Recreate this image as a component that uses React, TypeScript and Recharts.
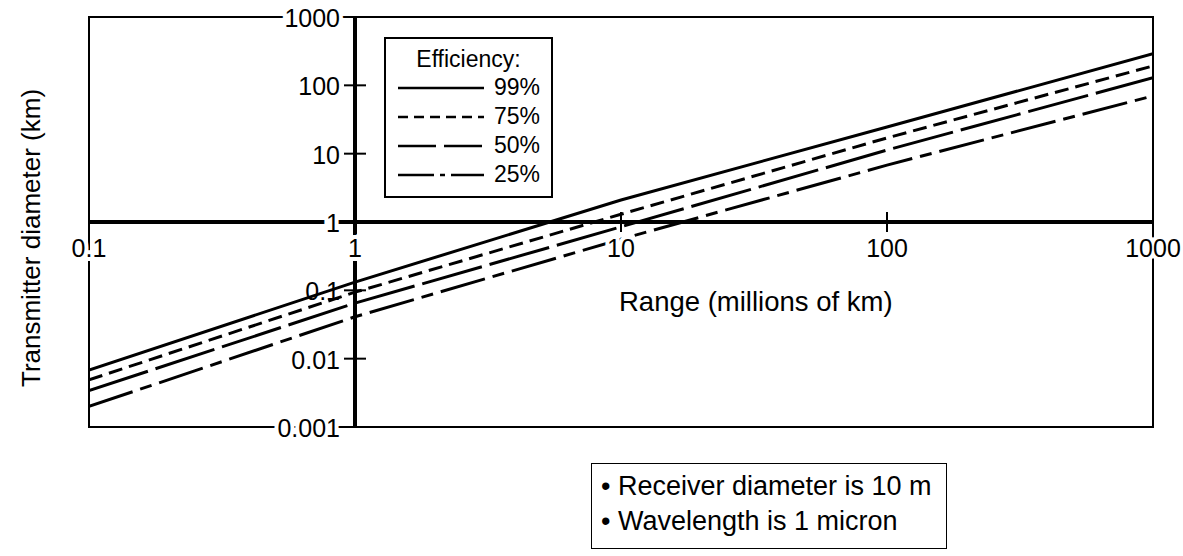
import React from 'react';
import { LineChart, Line, XAxis, YAxis, ReferenceLine, ReferenceArea, ReferenceDot, Legend } from 'recharts';

// range in millions of km (log axis)
const RANGES = [0.1, 1, 10, 100, 1000];

// transmitter diameter (km) per efficiency
const EFF_99 = [0.0068, 0.132, 2.1, 24.6, 290];
const EFF_75 = [0.0049, 0.094, 1.3, 17, 192];
const EFF_50 = [0.0034, 0.065, 0.85, 11.3, 129];
const EFF_25 = [0.002, 0.041, 0.56, 6.8, 70];

const X_TICKS = [0.1, 1, 10, 100, 1000];
const Y_TICKS = [0.001, 0.01, 0.1, 1, 10, 100, 1000];
const X_MARKED = [10, 100];
const Y_MARKED = [0.01, 0.1, 10, 100];

const NOTES = ['Receiver diameter is 10 m', 'Wavelength is 1 micron'];

const SERIES = [
  { key: 'e99', name: '99%', values: EFF_99, dash: undefined, legendDash: undefined },
  { key: 'e75', name: '75%', values: EFF_75, dash: '14 7', legendDash: '10 6' },
  { key: 'e50', name: '50%', values: EFF_50, dash: '62 8', legendDash: '38 8' },
  { key: 'e25', name: '25%', values: EFF_25, dash: '46 8 12 8', legendDash: '36 6 5 6' },
];

const data = RANGES.map((r, i) => {
  const row: Record<string, number> = { range: r };
  SERIES.forEach(s => { row[s.key] = s.values[i]; });
  return row;
});

const FONT = '"Liberation Sans", Arial, Helvetica, sans-serif';

const haloText = {
  fontFamily: FONT,
  fontSize: 25,
  fill: '#000',
  stroke: '#fff',
  strokeWidth: 8,
  paintOrder: 'stroke' as const,
};

const xTick = (value: number) => (props: any) => {
  const { cx, cy } = props;
  return (
    <g>
      {X_MARKED.includes(value) && (
        <line x1={cx} x2={cx} y1={cy - 10} y2={cy + 10} stroke="#000" strokeWidth={2} />
      )}
      <text x={cx} y={cy + 26} textAnchor="middle" dominantBaseline="central" style={haloText}>
        {value}
      </text>
    </g>
  );
};

const yTick = (value: number) => (props: any) => {
  const { cx, cy } = props;
  const style = value === 0.1 ? { ...haloText, strokeWidth: 0 } : haloText;
  return (
    <g>
      {Y_MARKED.includes(value) && (
        <line x1={cx - 11} x2={cx + 11} y1={cy} y2={cy} stroke="#000" strokeWidth={2} />
      )}
      <text x={cx - 15} y={cy + 1} textAnchor="end" dominantBaseline="central" style={style}>
        {value}
      </text>
    </g>
  );
};

const EfficiencyLegend = () => (
  <div
    style={{
      width: 169,
      height: 161,
      boxSizing: 'border-box',
      border: '2px solid #000',
      background: '#fff',
      fontFamily: FONT,
      fontSize: 23,
      color: '#000',
    }}
  >
    <div style={{ textAlign: 'center', marginTop: 6, lineHeight: '28px' }}>Efficiency:</div>
    {SERIES.map(s => (
      <div key={s.key} style={{ display: 'flex', alignItems: 'center', height: 29, paddingLeft: 12, paddingRight: 11 }}>
        <svg width={86} height={6}>
          <line x1={0} y1={3} x2={86} y2={3} stroke="#000" strokeWidth={2.6} strokeDasharray={s.legendDash} />
        </svg>
        <span style={{ marginLeft: 'auto' }}>{s.name}</span>
      </div>
    ))}
  </div>
);

export default function App() {
  return (
    <div style={{ position: 'relative', width: 1183, height: 556, fontFamily: FONT, background: '#fff' }}>
      <style>{'body{margin:0}'}</style>
      <LineChart width={1183} height={556} data={data} margin={{ top: 17, right: 30, bottom: 129, left: 89 }}>
        <XAxis dataKey="range" type="number" scale="log" domain={[0.1, 1000]} allowDataOverflow hide />
        <YAxis type="number" scale="log" domain={[0.001, 1000]} allowDataOverflow hide />
        <ReferenceArea x1={0.1} x2={1000} y1={0.001} y2={1000} fill="none" stroke="#000" strokeWidth={2} ifOverflow="visible" />
        <ReferenceLine y={1} stroke="#000" strokeWidth={4} />
        <ReferenceLine x={1} stroke="#000" strokeWidth={4} />
        {SERIES.map(s => (
          <Line
            key={s.key}
            dataKey={s.key}
            name={s.name}
            type="linear"
            stroke="#000"
            strokeWidth={3}
            strokeDasharray={s.dash}
            dot={false}
            activeDot={false}
            isAnimationActive={false}
          />
        ))}
        {X_TICKS.map(v => (
          <ReferenceDot key={`x${v}`} x={v} y={1} r={0} ifOverflow="visible" shape={xTick(v)} />
        ))}
        {Y_TICKS.map(v => (
          <ReferenceDot key={`y${v}`} x={1} y={v} r={0} ifOverflow="visible" shape={yTick(v)} />
        ))}
        <Legend
          layout="vertical"
          align="center"
          verticalAlign="middle"
          content={() => <EfficiencyLegend />}
          wrapperStyle={{ left: 384, top: 37, width: 169, height: 161 }}
        />
      </LineChart>

      <div
        style={{
          position: 'absolute',
          left: 31,
          top: 238,
          transform: 'translate(-50%, -50%) rotate(-90deg)',
          whiteSpace: 'nowrap',
          fontSize: 26,
        }}
      >
        Transmitter diameter (km)
      </div>
      <div style={{ position: 'absolute', left: 619, top: 287, fontSize: 27.5, lineHeight: '30px', whiteSpace: 'nowrap' }}>
        Range (millions of km)
      </div>
      <div
        style={{
          position: 'absolute',
          left: 591,
          top: 463,
          width: 356,
          height: 86,
          boxSizing: 'border-box',
          border: '1.5px solid #000',
          paddingTop: 5,
          paddingLeft: 9,
          fontSize: 27,
          lineHeight: '35px',
          whiteSpace: 'nowrap',
        }}
      >
        {NOTES.map(n => (
          <div key={n}>• {n}</div>
        ))}
      </div>
    </div>
  );
}
